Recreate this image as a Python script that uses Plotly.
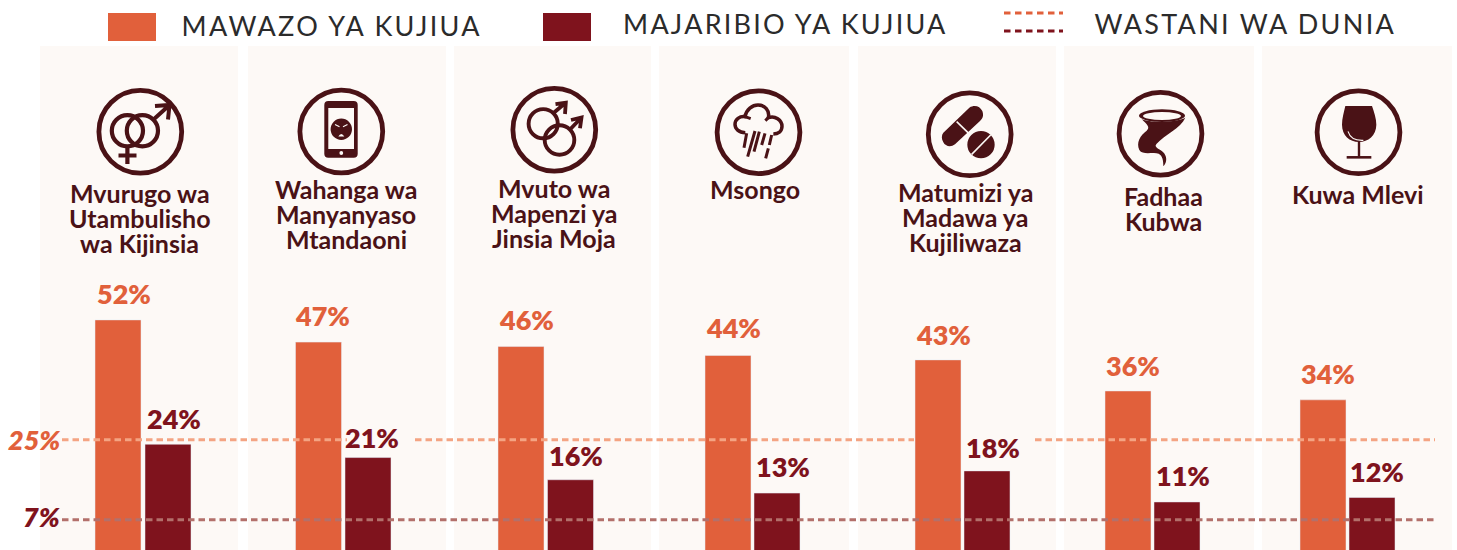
import re
import plotly.graph_objects as go

# ---- data ----
categories = [
    ["Mvurugo wa", "Utambulisho", "wa Kijinsia"],
    ["Wahanga wa", "Manyanyaso", "Mtandaoni"],
    ["Mvuto wa", "Mapenzi ya", "Jinsia Moja"],
    ["Msongo"],
    ["Matumizi ya", "Madawa ya", "Kujiliwaza"],
    ["Fadhaa", "Kubwa"],
    ["Kuwa Mlevi"],
]
mawazo = [52, 47, 46, 44, 43, 36, 34]
majaribio = [24, 21, 16, 13, 18, 11, 12]
wastani_mawazo = 25
wastani_majaribio = 7
legend_labels = ["MAWAZO YA KUJIUA", "MAJARIBIO YA KUJIUA", "WASTANI WA DUNIA"]

# ---- layout constants (page pixels) ----
W, H = 1457, 550
ZERO_PX, PX_PER_PCT = 550.8, 4.44
panels = [(40, 238), (248, 446), (454, 651), (659, 849), (858, 1056), (1064, 1254), (1262, 1452)]
PANEL_TOP = 46
orange_x = [118, 318.5, 521, 728, 938, 1128, 1323]
dark_x = [168, 368, 570.5, 777, 987, 1177, 1372]
BAR_W = 46
orange_lbl_x = [124, 322, 526, 733, 943, 1133, 1328]
dark_lbl_x = [174, 372, 576, 782.5, 993, 1183, 1377]
orange_lbl_shift = [26, 27, 27, 28, 25, 25, 26]
dark_lbl_shift = [26, 20, 24, 27, 23, 26, 26]
cat_x = [139.5, 346, 554, 755, 965, 1163, 1358]
cat_y = [193, 189, 188, 189, 192, 196, 194]
CAT_STEP = 25.2
line25_x = [62, 347, None, 415, 914, None, 1035, 1435]
line7_x = [62, 1435]

ORANGE, DARK, ICON, PANEL = "#E1603B", "#7F131D", "#4A1216", "#FDF9F6"
LINE_O, LINE_D = "#F4A483", "#B3706B"
INK = "#2B2B2B"
FONT = "Lato"
DASH = "6.5px,4px"

fig = go.Figure()
fig.add_trace(go.Scatter(x=line25_x, y=[wastani_mawazo if v is not None else None for v in line25_x],
                         mode="lines", line=dict(color=LINE_O, width=3, dash=DASH), hoverinfo="skip"))
fig.add_trace(go.Scatter(x=line7_x, y=[wastani_majaribio] * 2,
                         mode="lines", line=dict(color=LINE_D, width=3, dash=DASH), hoverinfo="skip"))
fig.add_trace(go.Bar(x=orange_x, y=mawazo, width=BAR_W, marker=dict(color=ORANGE), name=legend_labels[0]))
fig.add_trace(go.Bar(x=dark_x, y=majaribio, width=BAR_W, marker=dict(color=DARK), name=legend_labels[1]))
fig.add_trace(go.Scatter(x=[None], y=[None], yaxis="y2", hoverinfo="skip"))

shapes, ann = [], []


def rect(x0, y0, x1, y1, fill, layer="below"):
    shapes.append(dict(type="rect", xref="x", yref="y2", x0=x0, x1=x1, y0=y0, y1=y1,
                       fillcolor=fill, line=dict(width=0), layer=layer))


def circle(cx, cy, r, fill=None, stroke=None, sw=0):
    shapes.append(dict(type="circle", xref="x", yref="y2", x0=cx - r, x1=cx + r, y0=cy - r, y1=cy + r,
                       fillcolor=fill or "rgba(0,0,0,0)",
                       line=dict(color=stroke or "rgba(0,0,0,0)", width=sw), layer="above"))


def ellipse(cx, cy, rx, ry, fill):
    shapes.append(dict(type="circle", xref="x", yref="y2", x0=cx - rx, x1=cx + rx, y0=cy - ry, y1=cy + ry,
                       fillcolor=fill, line=dict(width=0), layer="above"))


def path(d, fill=None, stroke=None, sw=0):
    shapes.append(dict(type="path", xref="x", yref="y2", path=d, fillcolor=fill or "rgba(0,0,0,0)",
                       line=dict(color=stroke or "rgba(0,0,0,0)", width=sw), layer="above"))


def zoomed(ox, oy, d):
    """Icon outline traced at 3x around an origin -> page pixels."""
    nums = iter(range(10 ** 6))

    def sub(m):
        i = next(nums)
        v = float(m.group())
        return f"{(ox if i % 2 == 0 else oy) + v / 3:.2f}"

    return re.sub(r"-?\d+(?:\.\d+)?", sub, d)


for x0, x1 in panels:
    rect(x0, PANEL_TOP, x1, H + 2, PANEL)

# rings
RINGS = [(140.3, 131.8), (341.3, 131.5), (554.3, 129.7), (758.5, 132.2), (969.7, 134.3), (1160.5, 133.7), (1358.5, 132.3)]
for cx, cy in RINGS:
    circle(cx, cy, 41.4, stroke=ICON, sw=4.8)

# 1 gender
circle(127.4, 130.7, 15.6, stroke=ICON, sw=4.2)
circle(142.4, 130.7, 15.6, stroke=ICON, sw=4.2)
path("M 153.5 119.5 L 169 105.5 M 155 106 L 169.5 105 L 168 119.5", stroke=ICON, sw=4)
path("M 127.4 146 L 127.4 164 M 118.5 155.5 L 136.5 155.5", stroke=ICON, sw=4.2)

# 2 phone
path("M 328.3 101 L 353.7 101 Q 357.7 101 357.7 105 L 357.7 153.7 Q 357.7 157.7 353.7 157.7 L 328.3 157.7 "
     "Q 324.3 157.7 324.3 153.7 L 324.3 105 Q 324.3 101 328.3 101 Z", fill=ICON)
rect(328.3, 108, 354, 149, PANEL, layer="above")
circle(341.3, 129.3, 10.7, fill=ICON)
circle(341.3, 153, 1.9, fill=PANEL)
path("M 335 124.5 L 339.5 126.8 M 347.5 124.5 L 343 126.8", stroke=PANEL, sw=1.2)
path("M 338.3 136.5 Q 341.3 131.5 344.3 136.5 Z", fill=PANEL)

# 3 same-sex
circle(543.2, 123.7, 14.6, stroke=ICON, sw=3.9)
circle(559.5, 140, 14.8, stroke=ICON, sw=3.9)
path("M 553.5 113 L 565 103.2 M 555.5 104.2 L 565.8 102.8 L 565 114", stroke=ICON, sw=3.8)
path("M 570 129.5 L 581 118 M 571 120 L 581.5 117.5 L 580 128.3", stroke=ICON, sw=3.8)

# 4 cloud and rain
path(zoomed(708, 82, "M 112 152 C 92 152 81 140 81 127 C 81 112 95 102 111 104 C 115 82 133 69 150 69 "
                     "C 170 69 186 85 181 107 C 201 99 222 115 222 133 C 222 148 210 156 196 156"),
     stroke=ICON, sw=3.5)
path(zoomed(708, 82, "M 111 104 L 128 110 M 181 107 L 172 116"), stroke=ICON, sw=3)
path(zoomed(708, 82, "M 116 154 L 108 197 M 141 147 L 119 224 M 154 149 L 138 209 M 171 154 L 161 189 "
                     "M 191 159 L 184 189 M 181 199 L 173 229"), stroke=ICON, sw=3)

# 5 pills
path(zoomed(920, 85, "M 70 143 L 148 68 C 165 58 180 65 187 78 C 192 92 188 100 180 108 L 105 178 "
                     "C 92 188 76 184 70 172 C 64 162 64 150 70 143 Z"), fill=ICON)
path(zoomed(920, 85, "M 110 110 L 147 146"), stroke=PANEL, sw=1.6)
ellipse(920 + 183 / 3, 85 + 179 / 3, 41 / 3, 41 / 3, ICON)
path(zoomed(920, 85, "M 155 208 L 212 150"), stroke=PANEL, sw=1.6)

# 6 tornado
path(zoomed(1110, 85, "M 95 102 C 110 118 122 126 110 137 C 90 152 78 172 88 195 C 98 212 130 200 146 206 "
                      "C 158 212 160 228 160 244 C 172 232 172 212 158 200 C 146 190 130 186 140 176 "
                      "C 165 148 212 130 226 98 C 200 112 120 115 95 102 Z"), fill=ICON)
ellipse(1110 + 156 / 3, 85 + 92 / 3, 69 / 3, 19 / 3, ICON)
ellipse(1110 + 156 / 3, 85 + 93 / 3, 57 / 3, 12 / 3, PANEL)

# 7 wine glass
path(zoomed(1308, 82, "M 112 72 L 192 72 C 198 90 205 110 205 128 C 205 160 180 180 153 180 "
                      "C 125 180 102 160 102 128 C 102 110 108 90 112 72 Z"), fill=ICON)
path(zoomed(1308, 82, "M 153 178 L 153 224"), stroke=ICON, sw=2.4)
path(zoomed(1308, 82, "M 116 226 L 190 226"), stroke=ICON, sw=2.6)
path(zoomed(1308, 82, "M 120 148 C 126 168 145 176 166 175"), stroke=PANEL, sw=1.1)


def text(x, y, s, size, color, weight=400, style="normal", xanchor="center", yref="y2", yshift=0):
    ann.append(dict(x=x, y=y, xref="x", yref=yref, text=s, showarrow=False, xanchor=xanchor, yanchor="middle",
                    yshift=yshift, font=dict(family=FONT, size=size, color=color, weight=weight, style=style)))


# category labels
for lines, x, y in zip(categories, cat_x, cat_y):
    for i, ln in enumerate(lines):
        text(x, y + i * CAT_STEP, ln, 25, ICON, weight=700)

# value labels
for xs, ys, sh, col in ((orange_lbl_x, mawazo, orange_lbl_shift, ORANGE), (dark_lbl_x, majaribio, dark_lbl_shift, DARK)):
    for x, v, s in zip(xs, ys, sh):
        text(x, v, f"{v}%", 27, col, weight=800, yref="y", yshift=s)

# reference labels
text(62, wastani_mawazo, f"{wastani_mawazo}%", 27, ORANGE, 800, "italic", "right", "y")
text(62, wastani_majaribio, f"{wastani_majaribio}%", 27, DARK, 800, "italic", "right", "y", 3.5)

# legend
rect(108, 13, 156, 41, ORANGE, layer="above")
rect(543, 13, 591, 41, DARK, layer="above")
for yy, c in ((13, ORANGE), (31, DARK)):
    shapes.append(dict(type="line", xref="x", yref="y2", x0=1004, x1=1063, y0=yy, y1=yy, layer="above",
                       line=dict(color=c, width=3, dash="6.5px,4.5px")))
text(332, 25, legend_labels[0], 27, INK)
text(785.5, 23.5, legend_labels[1], 27, INK)
text(1245.5, 23, legend_labels[2], 27, INK)

fig.update_layout(
    width=W, height=H, margin=dict(l=0, r=0, t=0, b=0), paper_bgcolor="white", plot_bgcolor="white",
    showlegend=False, shapes=shapes, annotations=ann,
    xaxis=dict(range=[0, W], visible=False, fixedrange=True),
    yaxis=dict(range=[(ZERO_PX - H) / PX_PER_PCT, ZERO_PX / PX_PER_PCT], visible=False, fixedrange=True),
    yaxis2=dict(range=[H, 0], visible=False, overlaying="y", fixedrange=True),
    barmode="overlay",
)

post = """
document.body.style.margin = '0';
document.body.style.overflow = 'hidden';
var spacing = {'MAWAZO YA KUJIUA': '2.3px', 'MAJARIBIO YA KUJIUA': '2.2px', 'WASTANI WA DUNIA': '2.3px'};
document.querySelectorAll('.annotation-text').forEach(function (t) {
  if (spacing[t.textContent]) { t.style.letterSpacing = spacing[t.textContent]; }
});
"""
fig.write_html("out.html", post_script=post, config={"displayModeBar": False})
